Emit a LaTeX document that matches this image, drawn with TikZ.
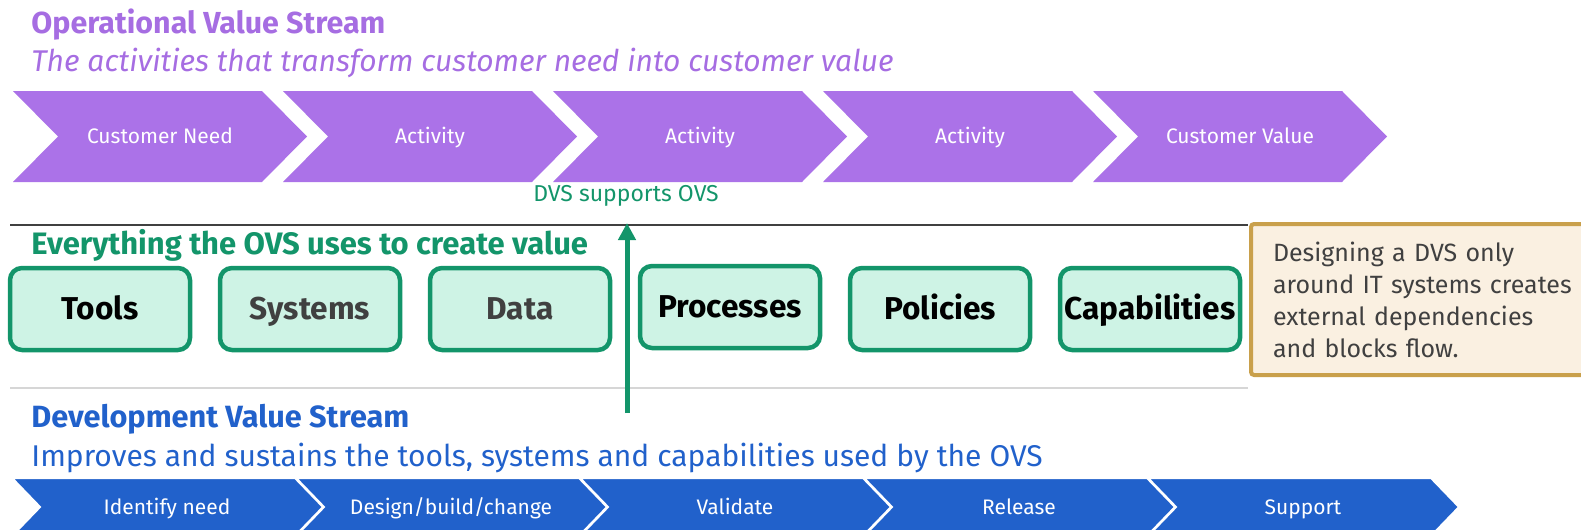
\documentclass[tikz,border=0pt]{standalone}
\usepackage{fontspec}
\setmainfont{Fira Sans}
\usetikzlibrary{arrows.meta}

\definecolor{ovspurple}{HTML}{A66DE2}
\definecolor{ovsfill}{HTML}{AB72E8}
\definecolor{ovsgreen}{HTML}{13956A}
\definecolor{mintfill}{HTML}{CEF3E5}
\definecolor{dvsblue}{HTML}{2161CB}
\definecolor{notegold}{HTML}{C9A04B}
\definecolor{notecream}{HTML}{FAF0E1}
\definecolor{darktext}{HTML}{404040}
\definecolor{rulegray}{HTML}{D6D6D6}

\tikzset{
  heading/.style={anchor=base west, inner sep=0pt, font=\bfseries\fontsize{15.2}{18}\selectfont},
  subheading/.style={anchor=base west, inner sep=0pt, font=\fontsize{15}{18}\selectfont},
  chevlabel/.style={text=white, inner sep=0pt, text height=7.2pt, text depth=0pt,
    font=\fontsize{10.5}{12}\selectfont},
  usebox/.style={draw=ovsgreen, line width=2.25pt, fill=mintfill, rounded corners=6pt,
    minimum width=90pt, minimum height=41pt, inner sep=0pt, text height=10.9pt, text depth=0pt,
    font=\bfseries\fontsize{15.8}{18}\selectfont},
  notebox/.style={draw=notegold, line width=2pt, fill=notecream, rounded corners=1.5pt,
    anchor=north west, align=left, text width=170pt, inner xsep=11pt, minimum height=75.5pt,
    text=darktext, font=\fontsize{12.5}{16}\selectfont}
}

\begin{document}
\begin{tikzpicture}[x=0.5pt, y=-0.5pt]
  \useasboundingbox (0,0) rectangle (1581,530);

  % Operational value stream
  \node[heading, text=ovspurple] (ovstitle) at (31,33) {Operational Value Stream};
  \node[subheading, text=ovspurple, font=\itshape\fontsize{15}{18}\selectfont] (ovssub) at (31,71)
    {The activities that transform customer need into customer value};
  \foreach \lbl [count=\i from 0] in {Customer Need, Activity, Activity, Activity, Customer Value} {
    \fill[ovsfill] ({13+270*\i},91) -- ++(249,0) -- ++(45,45.5) -- ++(-45,45.5)
      -- ++(-249,0) -- ++(45,-45.5) -- cycle;
    \node[chevlabel] (ovs\i) at ({13+270*\i+147},136.5) {\lbl};
  }

  % Separator lines
  \draw[darktext, line width=1pt] (10,225) -- (1248,225);
  \draw[rulegray, line width=1pt] (10,388) -- (1248,388);

  % What the OVS uses
  \node[heading, text=ovsgreen, font=\bfseries\fontsize{15.5}{18}\selectfont] (usetitle) at (31,254)
    {Everything the OVS uses to create value};
  \foreach \name/\lbl/\col/\y [count=\i from 0] in {tools/Tools/black/309, systems/Systems/darktext/309,
      data/Data/darktext/309, processes/Processes/black/307, policies/Policies/black/309,
      capabilities/Capabilities/black/309}
    \node[usebox, text=\col] (\name) at ({100+210*\i},\y) {\lbl};

  % DVS supports OVS
  \node[text=ovsgreen, inner sep=0pt, font=\fontsize{11.5}{14}\selectfont] (supports) at (626,196) {DVS supports OVS};
  \coordinate (arrowfoot) at (627,413);
  \coordinate (arrowtip) at (627,223);
  \draw[ovsgreen, line width=2.5pt, -{Triangle[length=8.5pt, width=8.5pt]}] (arrowfoot) -- (arrowtip);

  % Note
  \node[notebox] (note) at (1249,222) {Designing a DVS only\\around IT systems creates\\external dependencies\\and blocks flow.};

  % Development value stream
  \node[heading, text=dvsblue, font=\bfseries\fontsize{15.35}{18}\selectfont] (dvstitle) at (31,427) {Development Value Stream};
  \node[subheading, text=dvsblue] (dvssub) at (31,466)
    {Improves and sustains the tools, systems and capabilities used by the OVS};
  \foreach \lbl [count=\i from 0] in {Identify need, Design/build/change, Validate, Release, Support} {
    \filldraw[fill=dvsblue, draw=white, line width=1pt] ({12+284*\i},478) -- ++(283,0) -- ++(28,29)
      -- ++(-28,29) -- ++(-283,0) -- ++(28,-29) -- cycle;
    \node[chevlabel] (dvs\i) at ({12+284*\i+155},507) {\lbl};
  }
\end{tikzpicture}
\end{document}
